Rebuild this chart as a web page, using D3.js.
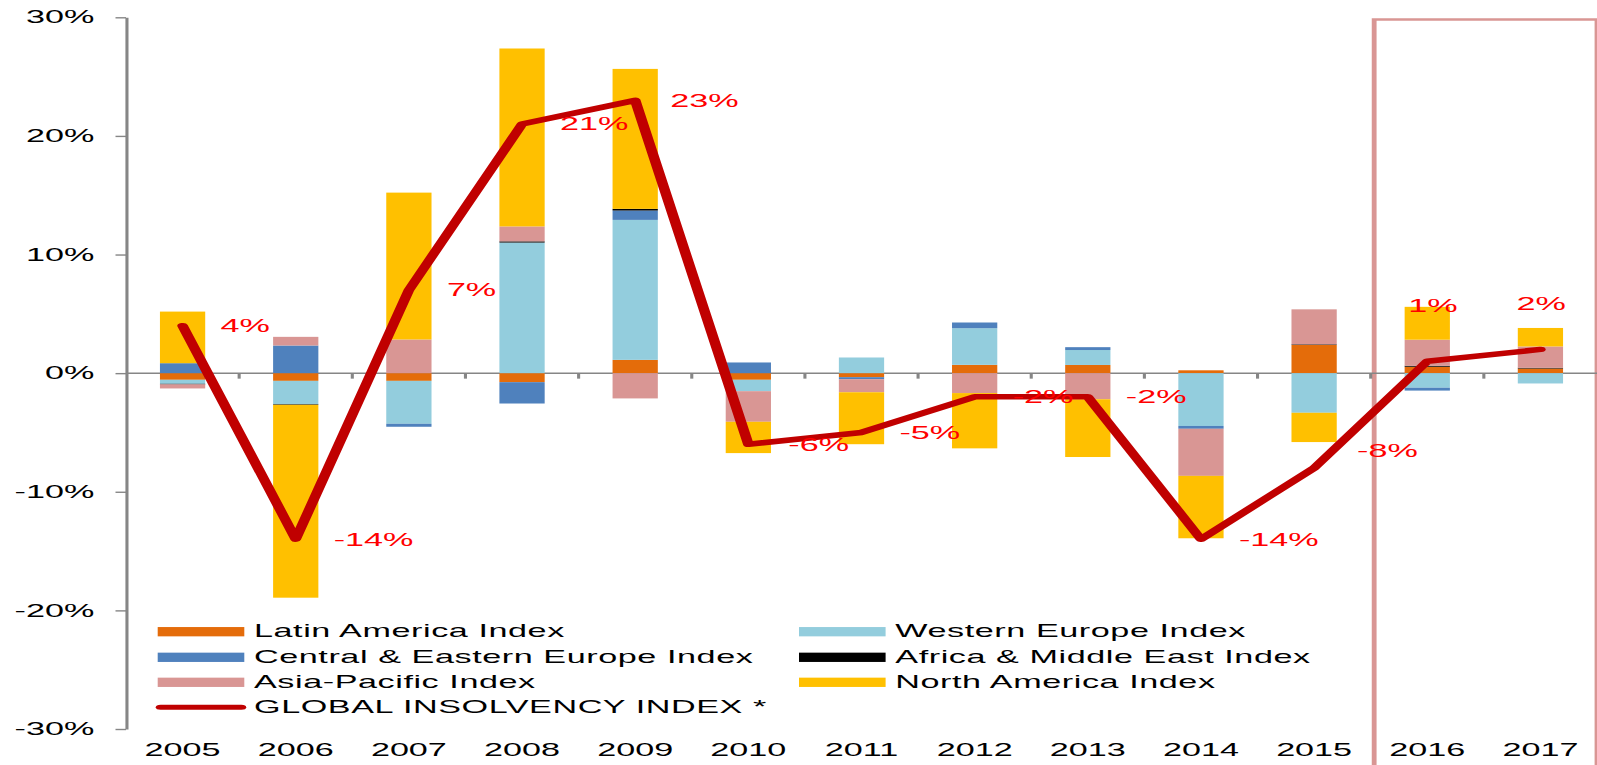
<!DOCTYPE html>
<html>
<head>
<meta charset="utf-8">
<script src="https://cdn.jsdelivr.net/npm/d3@7"></script>
<style>
  html, body { margin: 0; padding: 0; background: #fff; }
  svg { display: block; }
  text { font-family: "Liberation Sans", Arial, sans-serif; }
</style>
</head>
<body>
<script>
// data (percent)
var years = ["2005","2006","2007","2008","2009","2010","2011","2012","2013","2014","2015","2016","2017"];
var latinAmerica        = [-0.56, -0.65, -0.65, -0.76,  1.12, -0.56, -0.34,  0.70,  0.69,  0.24,  2.38,  0.54,  0.39];
var westernEurope       = [-0.34, -1.97, -3.62, 11.01, 11.80, -0.96,  1.32,  3.09,  1.26, -4.45, -3.34, -1.23, -0.87];
var centralEastEurope   = [ 0.84,  2.33, -0.25, -1.80,  0.79,  0.90, -0.17,  0.48,  0.24, -0.24,  0.00, -0.24,  0.00];
var africaMiddleEast    = [-0.05, -0.05,  0.00,  0.10,  0.14,  0.00,  0.00,  0.00,  0.00,  0.00,  0.05,  0.08,  0.06];
var asiaPacific         = [-0.34,  0.73,  2.84,  1.26, -2.13, -2.58, -1.10, -1.68, -2.20, -3.97,  2.95,  2.20,  1.80];
var northAmerica        = [ 4.35,-16.26, 12.38, 15.00, 11.80, -2.64, -4.38, -4.66, -4.87, -5.26, -2.47,  2.77,  1.56];
var globalIndex         = [4, -14, 7, 21, 23, -6, -5, -2, -2, -14, -8, 1, 2];
var yTicks = [-30, -20, -10, 0, 10, 20, 30];

var seriesNames = ["Latin America Index", "Western Europe Index", "Central & Eastern Europe Index",
                   "Africa & Middle East Index", "Asia-Pacific Index", "North America Index"];
var seriesValues = [latinAmerica, westernEurope, centralEastEurope, africaMiddleEast, asiaPacific, northAmerica];
var seriesColors = ["#E46C0A", "#93CDDD", "#4F81BD", "#000000", "#D99694", "#FFC000"];
var lineName = "GLOBAL INSOLVENCY INDEX *";

// the original chart is stretched sideways, so draw it narrow and scale the group
var SX = 1.93;
var width = 1597, height = 765;
var fontSize = 17.7;

// hand-placed data labels in the original (full px)
var labelNudge = { "2009": [35, 0], "2010": [40, 0], "2015": [43, -17], "2016": [-19, -56], "2017": [-24, -46] };

var rows = years.map(function(yr, i){
  var r = { year: yr };
  seriesNames.forEach(function(n, k){ r[n] = seriesValues[k][i]; });
  return r;
});

var stacked = d3.stack().keys(seriesNames).offset(d3.stackOffsetDiverging)(rows);

var svg = d3.select("body").append("svg").attr("width", width).attr("height", height);
var g = svg.append("g").attr("transform", "scale(" + SX + ",1)");

var x = d3.scaleBand().domain(years).range([126 / SX, width / SX]).paddingInner(0.6).paddingOuter(0.3);
var y = d3.scaleLinear().domain([-30, 30]).range([729, 17.3]);
var step = x.step();
var cx = function(d){ return x(d) + x.bandwidth() / 2; };

// forecast box
var boxLeft = cx("2016") - step / 2 + 1.8;
g.append("rect")
  .attr("x", boxLeft).attr("y", 19.5)
  .attr("width", width / SX - boxLeft).attr("height", 800)
  .attr("fill", "none").attr("stroke", "#D99694").attr("stroke-width", 2.5);

// y axis
var yAxis = g.append("g").attr("transform", "translate(" + (126 / SX) + ",0)")
  .call(d3.axisLeft(y).tickValues(yTicks).tickSize(10.5 / SX).tickSizeOuter(0).tickPadding(11)
    .tickFormat(function(d){ return d + "%"; }));
yAxis.select(".domain").attr("stroke", "#868686").attr("stroke-width", 1.6);
yAxis.selectAll(".tick line").attr("stroke", "#868686").attr("stroke-width", 1.4);
yAxis.selectAll(".tick text").attr("fill", "#000").style("font-size", fontSize + "px")
  .style("font-family", "'Liberation Sans', Arial, sans-serif");

// zero line with category separators
g.append("line")
  .attr("x1", 126 / SX).attr("x2", width / SX).attr("y1", y(0)).attr("y2", y(0))
  .attr("stroke", "#868686").attr("stroke-width", 1.5);
g.selectAll(".sep").data(years.slice(1)).enter().append("line")
  .attr("class", "sep")
  .attr("x1", function(d){ return cx(d) - step / 2; })
  .attr("x2", function(d){ return cx(d) - step / 2; })
  .attr("y1", y(0)).attr("y2", y(0) + 5.5)
  .attr("stroke", "#868686").attr("stroke-width", 1.6);

// stacked bars
g.selectAll(".series").data(stacked).enter().append("g")
  .attr("class", "series")
  .attr("fill", function(d, i){ return seriesColors[i]; })
  .selectAll("rect").data(function(d){ return d; }).enter().append("rect")
    .attr("x", function(d){ return x(d.data.year); })
    .attr("width", x.bandwidth())
    .attr("y", function(d){ return y(Math.max(d[0], d[1])); })
    .attr("height", function(d){ return Math.abs(y(d[0]) - y(d[1])); });

// category labels at the bottom
g.selectAll(".xlab").data(years).enter().append("text")
  .attr("class", "xlab")
  .attr("x", cx).attr("y", 755.7)
  .attr("text-anchor", "middle").attr("fill", "#000")
  .style("font-size", fontSize + "px")
  .text(function(d){ return d; });

// global index line
var line = d3.line()
  .x(function(d, i){ return cx(years[i]); })
  .y(function(d){ return y(d); });
g.append("path").datum(globalIndex)
  .attr("d", line)
  .attr("fill", "none").attr("stroke", "#C00000").attr("stroke-width", 5.5)
  .attr("stroke-linejoin", "round").attr("stroke-linecap", "round");

// data labels
g.selectAll(".dlab").data(globalIndex).enter().append("text")
  .attr("class", "dlab")
  .attr("x", function(d, i){ var n = labelNudge[years[i]] || [38, 0]; return cx(years[i]) + n[0] / SX; })
  .attr("y", function(d, i){ var n = labelNudge[years[i]] || [38, 0]; return y(d) + n[1] + 6.3; })
  .attr("fill", "#FF0000")
  .style("font-size", fontSize + "px")
  .text(function(d){ return d + "%"; });

// legend
var legendRows = [631.7, 657.3, 682.3, 707.3];
var legendCols = [157.7, 799];
var legendItems = seriesNames.map(function(n, i){
  return { name: n, color: seriesColors[i], col: i % 2, row: Math.floor(i / 2), kind: "bar" };
});
legendItems.push({ name: lineName, color: "#C00000", col: 0, row: 3, kind: "line" });

var leg = g.selectAll(".leg").data(legendItems).enter().append("g")
  .attr("class", "leg")
  .attr("transform", function(d){ return "translate(" + (legendCols[d.col] / SX) + "," + legendRows[d.row] + ")"; });
leg.filter(function(d){ return d.kind === "bar"; }).append("rect")
  .attr("x", 0).attr("y", -4.65).attr("width", 86.6 / SX).attr("height", 9.3)
  .attr("fill", function(d){ return d.color; });
leg.filter(function(d){ return d.kind === "line"; }).append("line")
  .attr("x1", 1.5).attr("x2", 86.6 / SX - 1.5).attr("y1", 0).attr("y2", 0)
  .attr("stroke", function(d){ return d.color; }).attr("stroke-width", 5)
  .attr("stroke-linecap", "round");
leg.append("text")
  .attr("x", 96.3 / SX).attr("y", 5.3)
  .attr("fill", "#000")
  .style("font-size", fontSize + "px")
  .style("letter-spacing", "0.3px")
  .text(function(d){ return d.name; });
</script>
</body>
</html>
